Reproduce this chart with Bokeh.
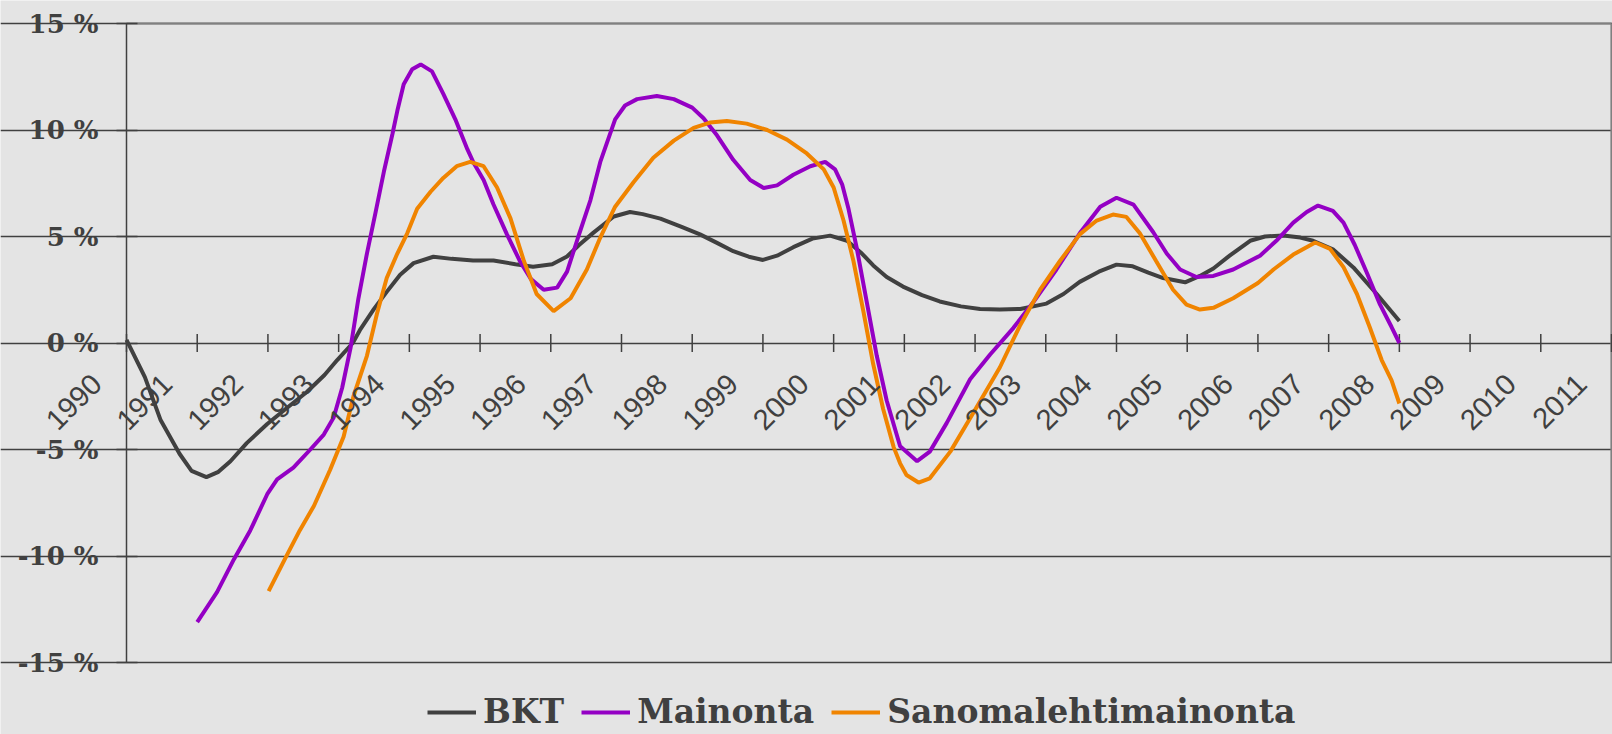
import math
from bokeh.plotting import figure
from bokeh.models import Legend, LegendItem, LinearAxis, Range1d, FixedTicker
from bokeh.embed import file_html
from bokeh.resources import INLINE

# ---- data -------------------------------------------------------------
years = list(range(1990, 2012))
year_labels = [str(y) for y in years]
y_ticks = [-15, -10, -5, 0, 5, 10, 15]
y_tick_labels = ["-15 %", "-10 %", "-5 %", "0 %", "5 %", "10 %", "15 %"]

series_names = ["BKT", "Mainonta", "Sanomalehtimainonta"]

bkt_x = [1990.00, 1990.26, 1990.48, 1990.75, 1990.92, 1991.13, 1991.30, 1991.47,
         1991.70, 1991.99, 1992.25, 1992.55, 1992.80, 1992.98, 1993.20, 1993.30,
         1993.50, 1993.68, 1993.87, 1994.06, 1994.34, 1994.60, 1994.90, 1995.19,
         1995.50, 1995.75, 1996.02, 1996.23, 1996.40, 1996.60, 1996.89, 1997.12,
         1997.30, 1997.55, 1997.85, 1998.11, 1998.35, 1998.58, 1998.80, 1999.00,
         1999.20, 1999.43, 1999.70, 1999.95, 2000.19, 2000.40, 2000.56, 2000.75,
         2000.98, 2001.25, 2001.50, 2001.80, 2002.07, 2002.35, 2002.64, 2003.01,
         2003.25, 2003.48, 2003.75, 2004.00, 2004.23, 2004.45, 2004.66, 2004.97,
         2005.18, 2005.37, 2005.60, 2005.89, 2006.10, 2006.36, 2006.60, 2006.78,
         2007.06, 2007.35, 2007.68, 2008.00]
bkt_y = [0.15, -1.6, -3.6, -5.2, -6.0, -6.3, -6.05, -5.55,
         -4.7, -3.8, -3.1, -2.3, -1.5, -0.8, 0.0, 0.6,
         1.6, 2.4, 3.2, 3.75, 4.05, 3.95, 3.87, 3.87,
         3.7, 3.58, 3.7, 4.06, 4.6, 5.17, 5.94, 6.15,
         6.05, 5.84, 5.45, 5.1, 4.7, 4.31, 4.05, 3.9,
         4.1, 4.5, 4.9, 5.04, 4.8, 4.2, 3.64, 3.1,
         2.65, 2.25, 1.95, 1.72, 1.6, 1.57, 1.6, 1.85,
         2.3, 2.87, 3.35, 3.68, 3.6, 3.3, 3.05, 2.85,
         3.15, 3.5, 4.1, 4.8, 5.0, 5.05, 4.95, 4.8,
         4.4, 3.55, 2.3, 1.03]

mainonta_x = [1991.00, 1991.28, 1991.52, 1991.75, 1991.99, 1992.13, 1992.36, 1992.60,
              1992.79, 1992.93, 1993.05, 1993.17, 1993.28, 1993.40, 1993.52, 1993.64,
              1993.76, 1993.83, 1993.92, 1994.04, 1994.16, 1994.32, 1994.48, 1994.65,
              1994.82, 1994.91, 1995.05, 1995.19, 1995.38, 1995.57, 1995.72, 1995.90,
              1996.09, 1996.23, 1996.39, 1996.56, 1996.70, 1996.91, 1997.05, 1997.22,
              1997.50, 1997.74, 1998.00, 1998.16, 1998.35, 1998.58, 1998.82, 1999.01,
              1999.20, 1999.43, 1999.67, 1999.88, 2000.02, 2000.12, 2000.21, 2000.33,
              2000.47, 2000.61, 2000.75, 2000.94, 2001.18, 2001.36, 2001.60, 2001.93,
              2002.21, 2002.54, 2002.82, 2003.15, 2003.48, 2003.77, 2004.00, 2004.24,
              2004.52, 2004.71, 2004.90, 2005.13, 2005.37, 2005.65, 2006.03, 2006.26,
              2006.50, 2006.69, 2006.85, 2007.06, 2007.21, 2007.37, 2007.54, 2007.72,
              2007.89, 2008.00]
mainonta_y = [-13.1, -11.7, -10.15, -8.8, -7.1, -6.4, -5.85, -5.0,
              -4.3, -3.5, -2.1, -0.2, 2.1, 4.2, 6.1, 8.05,
              9.8, 10.9, 12.15, 12.85, 13.08, 12.75, 11.7, 10.5,
              9.1, 8.45, 7.65, 6.5, 5.1, 3.8, 3.0, 2.5,
              2.6, 3.35, 5.0, 6.7, 8.5, 10.5, 11.15, 11.45,
              11.6, 11.45, 11.05, 10.55, 9.75, 8.6, 7.65, 7.28,
              7.4, 7.9, 8.3, 8.5, 8.15, 7.45, 6.3, 4.4,
              1.9, -0.6, -2.7, -4.85, -5.55, -5.1, -3.75, -1.7,
              -0.55, 0.7, 1.9, 3.45, 5.15, 6.4, 6.82, 6.5,
              5.2, 4.2, 3.45, 3.1, 3.15, 3.45, 4.1, 4.8,
              5.65, 6.15, 6.45, 6.2, 5.65, 4.6, 3.3, 1.85,
              0.75, 0.0]

sanoma_x = [1992.01, 1992.27, 1992.45, 1992.65, 1992.88, 1993.07, 1993.21, 1993.40,
            1993.54, 1993.68, 1993.83, 1993.97, 1994.11, 1994.30, 1994.48, 1994.67,
            1994.86, 1995.05, 1995.24, 1995.43, 1995.62, 1995.80, 1996.04, 1996.28,
            1996.51, 1996.70, 1996.91, 1997.17, 1997.45, 1997.74, 1998.02, 1998.25,
            1998.49, 1998.77, 1999.06, 1999.34, 1999.62, 1999.86, 2000.00, 2000.14,
            2000.28, 2000.42, 2000.56, 2000.70, 2000.85, 2000.94, 2001.03, 2001.20,
            2001.36, 2001.65, 2001.98, 2002.35, 2002.64, 2002.92, 2003.20, 2003.48,
            2003.72, 2003.95, 2004.14, 2004.33, 2004.56, 2004.80, 2004.99, 2005.18,
            2005.37, 2005.65, 2006.00, 2006.22, 2006.50, 2006.81, 2007.02, 2007.21,
            2007.40, 2007.58, 2007.75, 2007.89, 2008.00]
sanoma_y = [-11.65, -9.95, -8.8, -7.65, -5.95, -4.4, -2.5, -0.6,
            1.35, 3.05, 4.2, 5.15, 6.3, 7.1, 7.75, 8.3,
            8.5, 8.3, 7.3, 5.85, 3.85, 2.3, 1.5, 2.1,
            3.45, 4.95, 6.4, 7.55, 8.7, 9.5, 10.1, 10.35,
            10.42, 10.3, 10.0, 9.55, 8.9, 8.15, 7.3, 5.75,
            3.85, 1.5, -1.0, -3.1, -4.9, -5.65, -6.2, -6.55,
            -6.35, -5.1, -3.25, -1.15, 0.85, 2.5, 3.85, 5.1,
            5.75, 6.03, 5.92, 5.15, 3.85, 2.5, 1.8, 1.57,
            1.65, 2.1, 2.82, 3.45, 4.15, 4.72, 4.42, 3.56,
            2.3, 0.75, -0.8, -1.75, -2.84]

# ---- layout (pixels inside the figure) --------------------------------
BG = "#E4E4E4"
DARK = "#404040"
BORDER = "#808080"
colors = ["#404040", "#9400C4", "#F08400"]

W, H = 1612, 734
PLOT_L, PLOT_R = 126, 1611     # x pixel of first / last year
PLOT_T, PLOT_B = 23, 662       # y pixel of top / bottom y tick

px_x = (PLOT_R - PLOT_L) / (years[-1] - years[0])
px_y = (PLOT_B - PLOT_T) / (y_ticks[-1] - y_ticks[0])
x_start = years[0] - PLOT_L / px_x
x_end = years[-1] + (W - PLOT_R) / px_x
y_end = y_ticks[-1] + PLOT_T / px_y
y_start = y_ticks[0] - (H - PLOT_B) / px_y

p = figure(width=W, height=H,
           x_range=Range1d(x_start, x_end), y_range=Range1d(y_start, y_end),
           output_backend="svg", toolbar_location=None,
           x_axis_location=None, y_axis_location=None,
           min_border=0, outline_line_color=None,
           background_fill_color=BG, border_fill_color=BG)

# horizontal grid lines between first and last year
p.xgrid.visible = False
p.ygrid.ticker = FixedTicker(ticks=y_ticks)
p.ygrid.bounds = (years[0], years[-1])
p.ygrid.grid_line_color = DARK
p.ygrid.grid_line_width = 1.3

# plot-area border (top and right), grey as in the original
p.segment(x0=[years[0], years[-1]], y0=[y_ticks[-1], y_ticks[0]],
          x1=[years[-1], years[-1]], y1=[y_ticks[-1], y_ticks[-1]],
          line_color=BORDER, line_width=2.2)

# y axis at the first year
yax = LinearAxis(fixed_location=years[0], bounds=(y_ticks[0], y_ticks[-1]),
                 ticker=FixedTicker(ticks=y_ticks),
                 major_label_overrides={t: lab for t, lab in zip(y_ticks, y_tick_labels)})
yax.axis_line_color = DARK
yax.axis_line_width = 1.5
yax.major_tick_line_color = DARK
yax.major_tick_line_width = 1.5
yax.major_tick_in = 11
yax.major_tick_out = 10
yax.minor_tick_line_color = None
yax.major_label_standoff = 18
yax.major_label_text_font = "DejaVu Serif"
yax.major_label_text_font_style = "bold"
yax.major_label_text_font_size = "26px"
yax.major_label_text_color = DARK
p.add_layout(yax, "left")

# x axis crossing at 0: tick marks
zeros = [0] * len(years)
p.scatter(x=years, y=zeros, marker="dash", angle=math.pi / 2, size=18,
          line_color=DARK, line_width=1.5)

# rotated year labels: axis fixed at y=0 on a range shifted so that each
# label ends a little left of its tick, as in the original
shift = 30 / px_x
p.extra_x_ranges = {"labels": Range1d(x_start + shift, x_end + shift)}
xax = LinearAxis(x_range_name="labels", fixed_location=0,
                 ticker=FixedTicker(ticks=years),
                 major_label_overrides={y: s for y, s in zip(years, year_labels)})
xax.axis_line_color = None
xax.major_tick_line_color = None
xax.minor_tick_line_color = None
xax.major_tick_in = 0
xax.major_tick_out = 0
xax.major_label_standoff = 36
xax.major_label_orientation = math.pi / 4
xax.major_label_text_font = "Liberation Sans"
xax.major_label_text_font_size = "29px"
xax.major_label_text_color = DARK
p.add_layout(xax, "below")

# series
r_bkt = p.line(bkt_x, bkt_y, line_color=colors[0], line_width=4)
r_main = p.line(mainonta_x, mainonta_y, line_color=colors[1], line_width=4)
r_san = p.line(sanoma_x, sanoma_y, line_color=colors[2], line_width=4)

legend = Legend(items=[LegendItem(label=series_names[0], renderers=[r_bkt]),
                       LegendItem(label=series_names[1], renderers=[r_main]),
                       LegendItem(label=series_names[2], renderers=[r_san])],
                orientation="horizontal", location=(427, 3),
                label_text_font="DejaVu Serif", label_text_font_style="bold",
                label_text_font_size="33px", label_text_color=DARK,
                border_line_alpha=0, background_fill_alpha=0,
                glyph_width=49, label_standoff=7, spacing=17,
                padding=0, margin=0)
p.add_layout(legend)

open("out.html", "w").write(file_html(p, INLINE))
